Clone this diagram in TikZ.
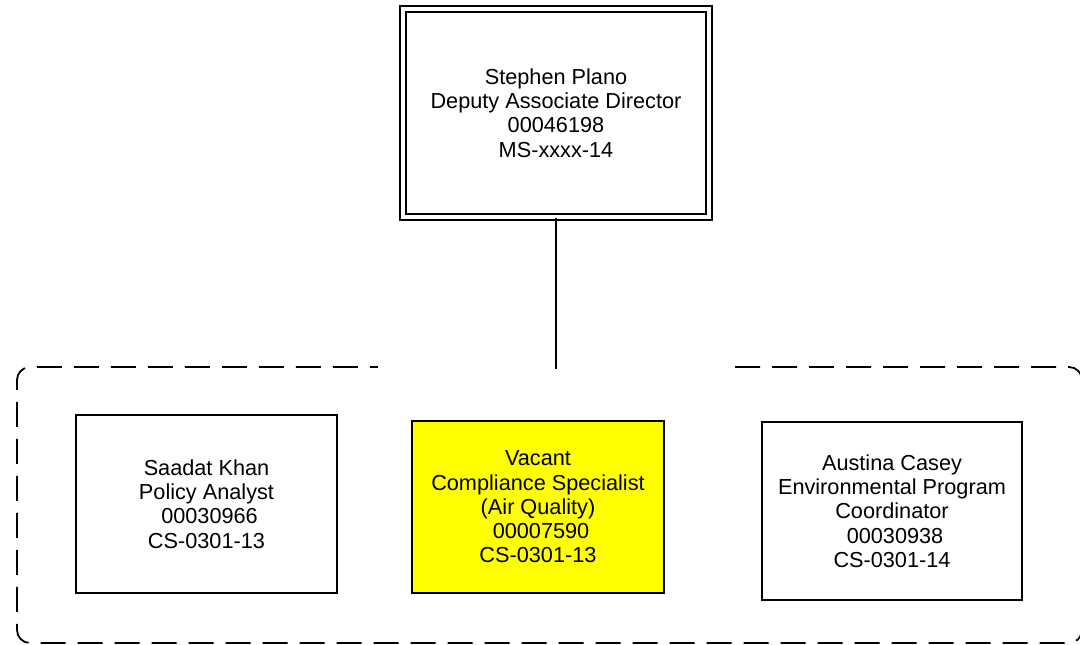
\documentclass[tikz,border=0pt]{standalone}
\usepackage{fontspec}
\setmainfont{Liberation Sans}
\usepackage{tikz}
\definecolor{vacantyellow}{RGB}{255,255,0}

\begin{document}
\begin{tikzpicture}[
    x=1pt, y=-1pt,
    post/.style={draw, line width=1.8pt, inner sep=0pt, align=center,
        font=\fontsize{21.7}{24.3}\selectfont},
    head/.style={post, double, double distance=3.7pt},
    group/.style={line width=1.8pt, dash pattern=on 25pt off 12pt, rounded corners=13pt}
]
    \useasboundingbox (0,0) rectangle (1080,645);
    % Top position
    \node[head, minimum width=306pt, minimum height=208pt] (plano) at (556,113)
        {Stephen Plano\\Deputy Associate Director\\00046198\\MS-xxxx-14};
    % Positions in the group
    \foreach \name/\x/\y/\w/\h/\col/\txt in {
        khan/206.5/504/261/178/white/{Saadat Khan\\Policy Analyst\\\hspace*{.28em}00030966\\CS-0301-13},
        vacant/538/507/252/172/vacantyellow/{Vacant\\Compliance Specialist\\(Air Quality)\\\hspace*{.28em}00007590\\CS-0301-13},
        casey/892/511/260/178/white/{Austina Casey\\Environmental Program\\Coordinator\\\hspace*{.28em}00030938\\CS-0301-14}} {
        \node[post, fill=\col, minimum width=\w pt, minimum height=\h pt] (\name) at (\x,\y) {\txt};
    }
    % Dashed group frame, open at the top
    \draw[group] (735,367) -- (1082,367) -- (1082,643) -- (17,643) -- (17,367) -- (378,367);
    \coordinate (grouptop) at (556,369);
    \draw[line width=1.8pt] (plano.south) -- (grouptop);
\end{tikzpicture}
\end{document}
